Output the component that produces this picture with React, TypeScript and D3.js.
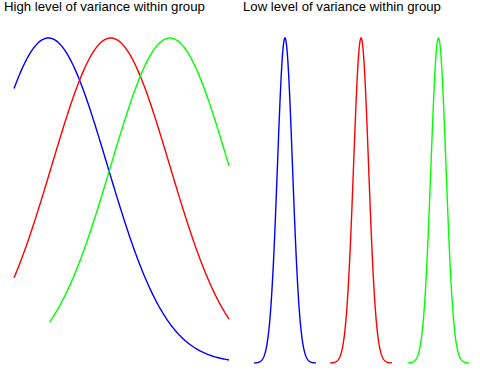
import React from 'react';
import * as d3 from 'd3';

// group colours
const groupColors = ['#0000ff', '#ff0000', '#00ff00'];

// left panel: wide distributions
const highTitle = 'High level of variance within group';
const highMeans = [1.6, 4.5, 7.25];
const highSd = 2.75;
const highStarts = [0, 0, 1.65];
const highEnds = [10, 10, 10];

// right panel: narrow distributions
const lowTitle = 'Low level of variance within group';
const lowMeans = [1.44, 4.98, 8.58];
const lowSd = 0.35;
const lowStarts = [0, 3.54, 7.14];
const lowEnds = [2.88, 6.42, 10];

const W = 480;
const H = 384;

const density = (x: number, m: number, s: number) =>
  Math.exp(-((x - m) ** 2) / (2 * s * s)) / (s * Math.sqrt(2 * Math.PI));

const Panel = ({ title, means, sd, starts, ends, x0, x1, tx }: any) => {
  const x = d3.scaleLinear().domain([0, 10]).range([x0, x1]);
  const y = d3.scaleLinear().domain([0, density(0, 0, sd)]).range([363, 38]);

  return (
    <g>
      <text x={tx} y={11} fontFamily="Liberation Sans, Arial, sans-serif" fontSize={13.2} fill="#000">
        {title}
      </text>
      {means.map((m: number, i: number) => {
        const xs = d3.range(starts[i], ends[i] + 1e-9, (ends[i] - starts[i]) / 200);
        const path = d3.line<number>()
          .x(v => x(v))
          .y(v => y(density(v, m, sd)))(xs);
        return (
          <path key={i} d={path ?? ''} fill="none" stroke={groupColors[i]} strokeWidth={1.4} />
        );
      })}
    </g>
  );
};

export default function App() {
  return (
    <svg width={W} height={H} style={{ position: 'absolute', left: 0, top: 0 }}>
      <rect width={W} height={H} fill="#fff" />
      <Panel title={highTitle} means={highMeans} sd={highSd} starts={highStarts} ends={highEnds} x0={14} x1={229} tx={4} />
      <Panel title={lowTitle} means={lowMeans} sd={lowSd} starts={lowStarts} ends={lowEnds} x0={254} x1={469} tx={243} />
    </svg>
  );
}
